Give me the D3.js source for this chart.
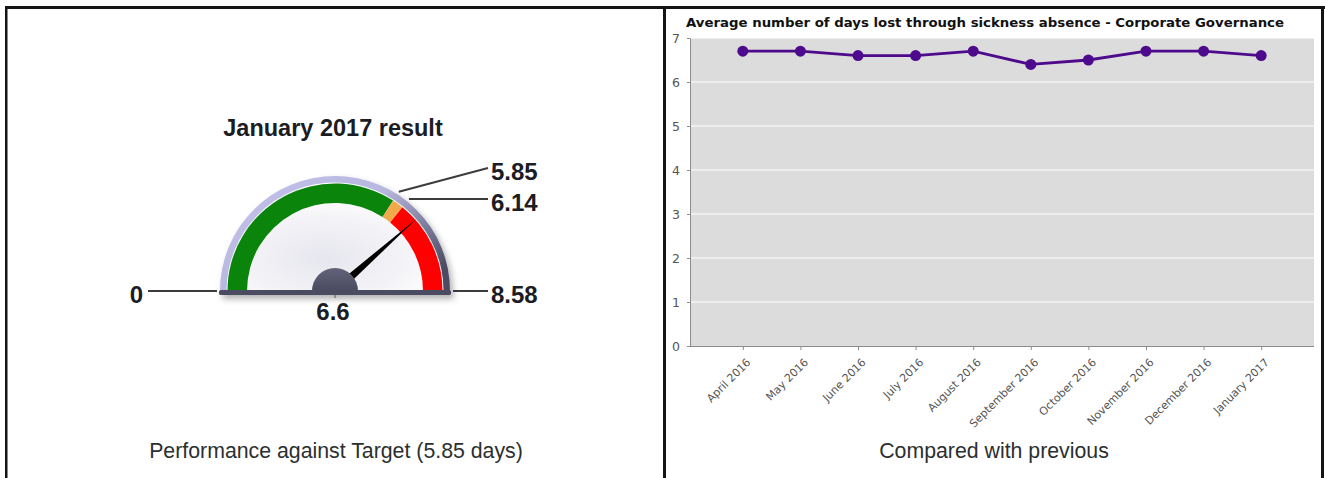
<!DOCTYPE html>
<html>
<head>
<meta charset="utf-8">
<script src="https://cdn.jsdelivr.net/npm/d3@7"></script>
<style>
  html, body { margin: 0; padding: 0; background: #ffffff; }
  svg { display: block; }
</style>
</head>
<body>
<svg id="chart" width="1325" height="478"></svg>
<script>
// ---- Gauge data ----
const gaugeTitle = "January 2017 result";
const gaugeMin = 0;
const gaugeMax = 8.58;
const bandStops = [0, 5.85, 6.14, 8.58];      // green | amber | red
const gaugeValue = 6.6;
const gaugeCaption = "Performance against Target (5.85 days)";

// ---- Trend data ----
const trendTitle = "Average number of days lost through sickness absence - Corporate Governance";
const months = ["April 2016", "May 2016", "June 2016", "July 2016", "August 2016",
                "September 2016", "October 2016", "November 2016", "December 2016", "January 2017"];
const daysLost = [6.7, 6.7, 6.6, 6.6, 6.7, 6.4, 6.5, 6.7, 6.7, 6.6];
const yTicks = [0, 1, 2, 3, 4, 5, 6, 7];
const trendCaption = "Compared with previous";

const svg = d3.select("#chart");
const defs = svg.append("defs");

// ---------- frame ----------
const frame = svg.append("g").attr("fill", "#141414");
frame.append("rect").attr("x", 5).attr("y", 6).attr("width", 1320).attr("height", 3);
frame.append("rect").attr("x", 5).attr("y", 6).attr("width", 2.5).attr("height", 472);
frame.append("rect").attr("x", 663).attr("y", 6).attr("width", 3).attr("height", 472);
frame.append("rect").attr("x", 1321).attr("y", 6).attr("width", 3).attr("height", 472);

// ---------- gauge ----------
const cx = 335, cy = 291;
const rBezel = 115, rFace = 108.5, rBandOut = 107.5, rBandIn = 88, rLeader = 118;
const ang = d3.scaleLinear().domain([gaugeMin, gaugeMax]).range([-Math.PI / 2, Math.PI / 2]);
const polar = (a, r) => [cx + r * Math.sin(a), cy - r * Math.cos(a)];

const bezelGrad = defs.append("linearGradient").attr("id", "bezelGrad")
  .attr("x1", 0.05).attr("y1", 0.1).attr("x2", 1).attr("y2", 0.75);
[[0, "#c2c2ec"], [0.5, "#b6b6de"], [0.76, "#7e7e9e"], [1, "#4c4c64"]].forEach(([o, c]) =>
  bezelGrad.append("stop").attr("offset", o).attr("stop-color", c));

const faceGrad = defs.append("radialGradient").attr("id", "faceGrad")
  .attr("cx", 0.45).attr("cy", 0.7).attr("r", 0.6);
[[0, "#e6e6ee"], [0.6, "#f3f3f7"], [1, "#ffffff"]].forEach(([o, c]) =>
  faceGrad.append("stop").attr("offset", o).attr("stop-color", c));

const hubGrad = defs.append("linearGradient").attr("id", "hubGrad")
  .attr("x1", 0).attr("y1", 0).attr("x2", 0).attr("y2", 1);
[[0, "#62627a"], [1, "#4a4a60"]].forEach(([o, c]) =>
  hubGrad.append("stop").attr("offset", o).attr("stop-color", c));

const shadow = defs.append("filter").attr("id", "gaugeShadow")
  .attr("x", "-20%").attr("y", "-20%").attr("width", "140%").attr("height", "150%");
shadow.append("feDropShadow").attr("dx", 3).attr("dy", 4)
  .attr("stdDeviation", 3).attr("flood-color", "#000").attr("flood-opacity", 0.3);

const gauge = svg.append("g");
const halfDisc = r => d3.arc().innerRadius(0).outerRadius(r)
  .startAngle(-Math.PI / 2).endAngle(Math.PI / 2)();

const body = gauge.append("g").attr("filter", "url(#gaugeShadow)");
body.append("path").attr("transform", `translate(${cx},${cy})`)
  .attr("d", halfDisc(rBezel)).attr("fill", "url(#bezelGrad)");
body.append("rect").attr("x", cx - rBezel - 1).attr("y", cy - 1).attr("width", 2 * rBezel + 2)
  .attr("height", 5).attr("rx", 2.5).attr("fill", "#4b4b61");

gauge.append("path").attr("transform", `translate(${cx},${cy})`)
  .attr("d", halfDisc(rFace)).attr("fill", "url(#faceGrad)");

const bandColors = ["#0a840a", "#f2a94c", "#ff0000"];
const bandArc = d3.arc().innerRadius(rBandIn).outerRadius(rBandOut);
d3.pairs(bandStops).forEach(([a, b], i) => {
  gauge.append("path").attr("transform", `translate(${cx},${cy})`)
    .attr("d", bandArc({ startAngle: ang(a), endAngle: ang(b) }))
    .attr("fill", bandColors[i]);
});

// needle
const na = ang(gaugeValue);
const tip = polar(na, 109);
const b1 = polar(na - Math.PI / 2, 4.5), b2 = polar(na + Math.PI / 2, 4.5);
gauge.append("path").attr("d", `M${b1}L${tip}L${b2}Z`).attr("fill", "#000");

// hub
gauge.append("path").attr("transform", `translate(${cx},${cy})`)
  .attr("d", halfDisc(23)).attr("fill", "url(#hubGrad)");
gauge.append("rect").attr("x", cx - rBezel - 1).attr("y", cy - 1).attr("width", 2 * rBezel + 2)
  .attr("height", 5).attr("rx", 2.5).attr("fill", "#4b4b61");
gauge.append("line").attr("x1", cx).attr("x2", cx).attr("y1", cy + 4).attr("y2", cy + 7)
  .attr("stroke", "#555").attr("stroke-width", 1);

// scale labels with leader lines
const labelFont = "'Liberation Sans', Arial, sans-serif";
const leaders = [];
bandStops.forEach(v => {
  const a = ang(v);
  const p = polar(a, rLeader);
  leaders.push({ v, a, p, y: p[1] });
});
// keep right-hand labels apart
const right = leaders.filter(d => d.a > -Math.PI / 2).sort((a, b) => b.y - a.y);
for (let i = 1; i < right.length; i++) {
  if (right[i - 1].y - right[i].y < 31) right[i].y = right[i - 1].y - 31;
}
leaders.forEach(d => {
  const isLeft = d.a <= -Math.PI / 2 + 1e-6;
  const xEnd = isLeft ? 148 : 488;
  gauge.append("path").attr("d", `M${d.p}L${xEnd},${d.y}`)
    .attr("fill", "none").attr("stroke", "#3c3c3c").attr("stroke-width", 2);
  gauge.append("text").attr("x", isLeft ? 143 : 491).attr("y", d.y + 12)
    .attr("text-anchor", isLeft ? "end" : "start")
    .attr("font-family", labelFont).attr("font-weight", "bold").attr("font-size", 24)
    .attr("fill", "#1c1c24").text(d3.format("")(d.v));
});

gauge.append("text").attr("x", cx - 2).attr("y", 320).attr("text-anchor", "middle")
  .attr("font-family", labelFont).attr("font-weight", "bold").attr("font-size", 24)
  .attr("fill", "#1c1c24").text(gaugeValue);

gauge.append("text").attr("x", 333).attr("y", 136).attr("text-anchor", "middle")
  .attr("font-family", labelFont).attr("font-weight", "bold").attr("font-size", 23.5)
  .attr("fill", "#1c1c24").text(gaugeTitle);

svg.append("text").attr("x", 336).attr("y", 458).attr("text-anchor", "middle")
  .attr("font-family", labelFont).attr("font-size", 21.3).attr("fill", "#2b2f30")
  .text(gaugeCaption);

// ---------- trend line chart ----------
const plot = { left: 690, right: 1314, top: 38, bottom: 346 };
const x = d3.scalePoint().domain(months).range([plot.left, plot.right]).padding(0.917);
const y = d3.scaleLinear().domain([0, 7]).range([plot.bottom, plot.top]);
const tickFont = "'DejaVu Sans', Verdana, sans-serif";

const trend = svg.append("g");
trend.append("rect").attr("x", plot.left).attr("y", plot.top)
  .attr("width", plot.right - plot.left).attr("height", plot.bottom - plot.top)
  .attr("fill", "#dcdcdc");

trend.append("g").selectAll("line").data(yTicks.filter(t => t > 0)).join("line")
  .attr("x1", plot.left).attr("x2", plot.right)
  .attr("y1", d => y(d)).attr("y2", d => y(d))
  .attr("stroke", "#ffffff").attr("stroke-width", 1);

const yAxis = trend.append("g").attr("transform", `translate(${plot.left},0)`)
  .call(d3.axisLeft(y).tickValues(yTicks).tickFormat(d3.format("d"))
    .tickSize(3).tickPadding(7).tickSizeOuter(0));
yAxis.select(".domain").attr("stroke", "#8c8c8c");
yAxis.selectAll(".tick line").attr("stroke", "#8c8c8c");
yAxis.selectAll("text").attr("font-family", tickFont).attr("font-size", 12.5).attr("fill", "#555");

const xAxis = trend.append("g").attr("transform", `translate(0,${plot.bottom})`)
  .call(d3.axisBottom(x).tickSize(4).tickSizeOuter(0));
xAxis.select(".domain").attr("stroke", "#8c8c8c").attr("d", `M${plot.left},0.5H${plot.right}`);
xAxis.selectAll(".tick line").attr("stroke", "#8c8c8c");
xAxis.selectAll("text")
  .attr("font-family", tickFont).attr("font-size", 11).attr("fill", "#555")
  .attr("text-anchor", "end").attr("y", 0).attr("dy", 0)
  .attr("transform", "translate(8,17) rotate(-45)");

const lineColor = "#4e0a8c";
trend.append("path").datum(daysLost)
  .attr("d", d3.line().x((d, i) => x(months[i])).y(d => y(d)))
  .attr("fill", "none").attr("stroke", lineColor).attr("stroke-width", 2.8);
trend.append("g").selectAll("circle").data(daysLost).join("circle")
  .attr("cx", (d, i) => x(months[i])).attr("cy", d => y(d)).attr("r", 5.5)
  .attr("fill", lineColor);

const tt = trend.append("text").attr("x", 686).attr("y", 27)
  .attr("font-family", tickFont).attr("font-weight", "bold").attr("font-size", 12)
  .attr("fill", "#111").text(trendTitle);
tt.attr("textLength", 598).attr("lengthAdjust", "spacingAndGlyphs");

svg.append("text").attr("x", 994).attr("y", 458).attr("text-anchor", "middle")
  .attr("font-family", labelFont).attr("font-size", 21.3).attr("fill", "#2b2f30")
  .text(trendCaption);
</script>
</body>
</html>
